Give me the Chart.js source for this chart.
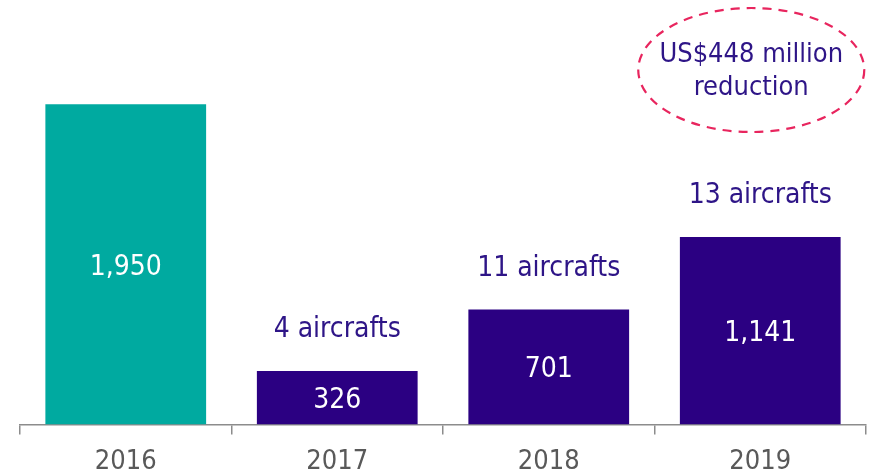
<!DOCTYPE html>
<html>
<head>
<meta charset="utf-8">
<script src="https://cdn.jsdelivr.net/npm/chart.js@4"></script>
<style>
  html, body { margin: 0; padding: 0; background: #fff; }
  #wrap { width: 874px; height: 476px; position: relative; }
</style>
</head>
<body>
<div id="wrap"><canvas id="c"></canvas></div>
<script>
// data
const years = ['2016', '2017', '2018', '2019'];
const values = [1950, 326, 701, 1141];
const valueLabels = ['1,950', '326', '701', '1,141'];
const topLabels = ['', '4 aircrafts', '11 aircrafts', '13 aircrafts'];
const noteLines = ['US$448 million', 'reduction'];

const TEAL = '#00AAA0';
const PURPLE = '#2B0082';
const TEXT_PURPLE = '#2E1587';
const FONT = '"DejaVu Sans Condensed", "DejaVu Sans", sans-serif';

// labels inside / above bars, plus the dashed ellipse note
const labelPlugin = {
  id: 'barLabels',
  afterDatasetsDraw(chart) {
    const ctx = chart.ctx;
    const meta = chart.getDatasetMeta(0);
    ctx.save();
    ctx.textAlign = 'center';
    ctx.textBaseline = 'middle';
    meta.data.forEach(function(bar, i) {
      const mid = (bar.y + bar.base) / 2;
      ctx.fillStyle = '#ffffff';
      ctx.font = '28px ' + FONT;
      ctx.fillText(valueLabels[i], bar.x, mid + 3);
      if (topLabels[i]) {
        ctx.fillStyle = TEXT_PURPLE;
        ctx.font = '28px ' + FONT;
        ctx.fillText(topLabels[i], bar.x, bar.y - 41);
      }
    });

    // note ellipse over the last bar
    const last = meta.data[meta.data.length - 1];
    const cx = last.x - 9, cy = 70;
    ctx.beginPath();
    ctx.ellipse(cx, cy, 113, 62, 0, 0, Math.PI * 2);
    ctx.setLineDash([9, 7]);
    ctx.lineWidth = 2.2;
    ctx.strokeStyle = '#E8255E';
    ctx.stroke();
    ctx.setLineDash([]);
    ctx.fillStyle = TEXT_PURPLE;
    ctx.font = '27px ' + FONT;
    ctx.fillText(noteLines[0], cx, cy - 15);
    ctx.fillText(noteLines[1], cx, cy + 18);
    ctx.restore();
  }
};

new Chart(document.getElementById('c'), {
  type: 'bar',
  data: {
    labels: years,
    datasets: [{
      data: values,
      backgroundColor: [TEAL, PURPLE, PURPLE, PURPLE],
      borderWidth: 0,
      categoryPercentage: 0.76,
      barPercentage: 1.0
    }]
  },
  options: {
    responsive: true,
    maintainAspectRatio: false,
    animation: false,
    layout: { padding: { left: 20, right: 8, top: 0, bottom: -13 } },
    plugins: {
      legend: { display: false },
      tooltip: { enabled: false }
    },
    scales: {
      x: {
        offset: true,
        grid: {
          offset: true,
          drawOnChartArea: false,
          drawTicks: true,
          tickLength: 10,
          color: '#8c8c8c',
          lineWidth: 1.5
        },
        border: { display: true, color: '#8c8c8c', width: 1.5 },
        ticks: {
          color: '#595959',
          padding: 11,
          font: { size: 27, family: FONT }
        }
      },
      y: {
        display: false,
        min: 0,
        max: 2584
      }
    }
  },
  plugins: [labelPlugin]
});
</script>
</body>
</html>
